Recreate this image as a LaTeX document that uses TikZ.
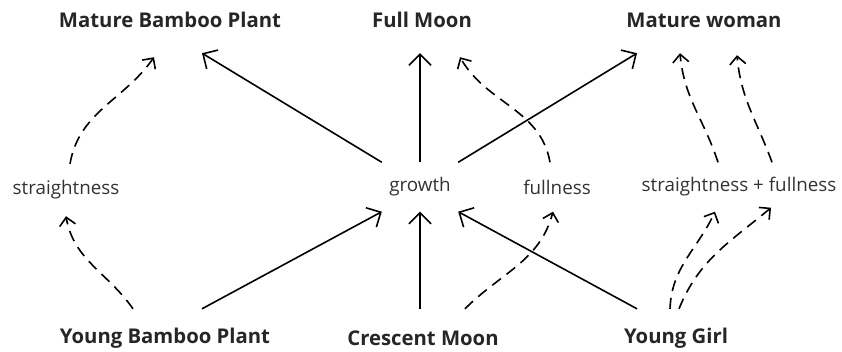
\documentclass[tikz,border=0pt]{standalone}
\usepackage{fontspec}
\setmainfont{Open Sans}
\usetikzlibrary{arrows.meta}
\tikzset{
  stage/.style={font=\bfseries\fontsize{20.3}{24}\selectfont, text=black!85, minimum height=66pt},
  trait/.style={font=\fontsize{18.8}{22}\selectfont, text=black!80, minimum height=49pt},
  link/.style={line width=1.6pt, -{Straight Barb[length=11pt,width=22pt]}},
  hint/.style={line width=1.6pt, dash pattern=on 11pt off 7pt, -{Straight Barb[length=8pt,width=16pt]}}
}
\begin{document}
\begin{tikzpicture}[x=1pt,y=1pt]
\useasboundingbox[fill=white] (0,0) rectangle (842,351);
% grown forms
\node[stage] (mbp) at (170,331) {Mature Bamboo Plant};
\node[stage] (fm) at (422,331) {Full Moon};
\node[stage] (mw) at (704,331) {Mature woman};
% shared traits
\node[trait, minimum height=52pt] (str) at (66,161) {straightness};
\node[trait, minimum width=76pt] (gro) at (420,164) {growth};
\node[trait] (ful) at (557,164) {fullness};
\node[trait] (sf) at (739,164) {straightness + fullness};
% young forms
\node[stage, minimum height=58pt] (ybp) at (165,13) {Young Bamboo Plant};
\node[stage, minimum height=58pt] (cm) at (423,13) {Crescent Moon};
\node[stage, minimum height=58pt] (yg) at (676,13) {Young Girl};
% growth
\draw[link] (ybp.north) ++(37,0) -- (gro.south west);
\draw[link] (gro.south |- cm.north) -- (gro.south);
\draw[link] ([xshift=-39pt]yg.north) -- (gro.south east);
\draw[link] (gro.north west) -- ([xshift=32pt]mbp.south);
\draw[link] (gro.north) -- (gro.north |- fm.south);
\draw[link] (gro.north east) -- ([xshift=-67pt]mw.south);
% bamboo
\draw[hint] ([xshift=-32pt]ybp.north) to[out=125,in=-80] (str.south);
\draw[hint] ([xshift=4pt]str.north) to[out=80,in=-125] ([xshift=-16pt,yshift=-4pt]mbp.south);
% moon
\draw[hint] ([xshift=42pt]cm.north) to[out=45,in=-105] ([xshift=-4pt]ful.south);
\draw[hint] ([xshift=-7pt]ful.north) to[out=100,in=-60] ([xshift=38pt,yshift=-4pt]fm.south);
% girl
\draw[hint] ([xshift=-6pt]yg.north) to[out=88,in=-115] ([xshift=-24pt]sf.south);
\draw[hint] ([xshift=3pt]yg.north) to[out=68,in=-140] ([xshift=32pt,yshift=4pt]sf.south);
\draw[hint] ([xshift=-21pt]sf.north) to[out=108,in=-85] ([xshift=-24pt]mw.south);
\draw[hint] ([xshift=33pt]sf.north) to[out=110,in=-85] ([xshift=33pt,yshift=-2pt]mw.south);
\end{tikzpicture}
\end{document}
